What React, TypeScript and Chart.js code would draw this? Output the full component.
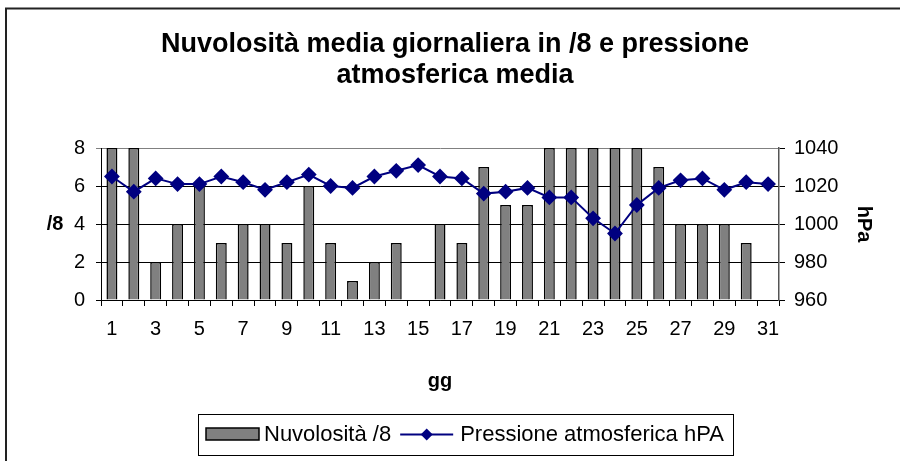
import React, { useEffect, useRef } from "react";
import { Chart, registerables } from "chart.js";

Chart.register(...registerables);

const days = ["1","2","3","4","5","6","7","8","9","10","11","12","13","14","15","16","17","18","19","20","21","22","23","24","25","26","27","28","29","30","31"];
const cloudCover = [8, 8, 2, 4, 6, 3, 4, 4, 3, 6, 3, 1, 2, 3, 0, 4, 3, 7, 5, 5, 8, 8, 8, 8, 8, 7, 4, 4, 4, 3, 0];
const pressure = [1025, 1017, 1024, 1021, 1021, 1025, 1022, 1018, 1022, 1026, 1020, 1019, 1025, 1028, 1031, 1025, 1024, 1016, 1017, 1019, 1014, 1014, 1003, 995, 1010, 1019, 1023, 1024, 1018, 1022, 1021];
const titleLines = ["Nuvolosità media giornaliera in /8 e pressione", "atmosferica media"];
const cloudLabel = "Nuvolosità /8";
const pressureLabel = "Pressione atmosferica hPA";
const leftTitle = "/8";
const rightTitle = "hPa";
const xTitle = "gg";

const FONT = "'Liberation Sans', Arial, sans-serif";
const NAVY = "#000080";
const GREY = "#808080";

const decorations = {
  id: "decorations",
  beforeDraw(chart: any) {
    const ctx = chart.ctx;
    ctx.save();
    ctx.fillStyle = "#fff";
    ctx.fillRect(0, 0, chart.width, chart.height);
    ctx.restore();
  },
  afterDraw(chart: any) {
    const ctx = chart.ctx;
    const area = chart.chartArea;
    ctx.save();
    // outer frame (top + left visible)
    ctx.strokeStyle = "#222";
    ctx.lineWidth = 2;
    ctx.beginPath();
    ctx.moveTo(6, chart.height);
    ctx.lineTo(6, 8.5);
    ctx.lineTo(chart.width, 8.5);
    ctx.stroke();

    // title
    ctx.fillStyle = "#000";
    ctx.textAlign = "center";
    ctx.textBaseline = "middle";
    ctx.font = `bold 27px ${FONT}`;
    ctx.fillText(titleLines[0], 455, 45);
    ctx.fillText(titleLines[1], 455, 76);

    // axis titles
    ctx.font = `bold 20px ${FONT}`;
    ctx.fillText(leftTitle, 55, 224);
    ctx.fillText(xTitle, (area.left + area.right) / 2, 381);
    ctx.save();
    ctx.translate(864, 224);
    ctx.rotate(Math.PI / 2);
    ctx.fillText(rightTitle, 0, 0);
    ctx.restore();

    // legend
    const bx = 198.5, by = 414.5, bw = 535, bh = 41;
    ctx.strokeStyle = "#000";
    ctx.lineWidth = 1;
    ctx.strokeRect(bx, by, bw, bh);
    const cy = 434.5;
    ctx.fillStyle = GREY;
    ctx.fillRect(206, 428, 53, 12);
    ctx.lineWidth = 1.5;
    ctx.strokeRect(206, 428, 53, 12);
    ctx.font = `22px ${FONT}`;
    ctx.fillStyle = "#000";
    ctx.textAlign = "left";
    ctx.fillText(cloudLabel, 264, cy);
    const w1 = ctx.measureText(cloudLabel).width;
    const lx = 264 + w1 + 9;
    ctx.strokeStyle = NAVY;
    ctx.lineWidth = 2;
    ctx.beginPath();
    ctx.moveTo(lx, cy);
    ctx.lineTo(lx + 53, cy);
    ctx.stroke();
    ctx.fillStyle = NAVY;
    ctx.beginPath();
    const dx = lx + 26.5;
    ctx.moveTo(dx, cy - 6);
    ctx.lineTo(dx + 6, cy);
    ctx.lineTo(dx, cy + 6);
    ctx.lineTo(dx - 6, cy);
    ctx.closePath();
    ctx.fill();
    ctx.fillStyle = "#000";
    ctx.fillText(pressureLabel, lx + 60, cy);
    ctx.restore();
  },
};

export default function App() {
  const ref = useRef<HTMLCanvasElement | null>(null);

  useEffect(() => {
    if (!ref.current) return;
    const chart = new Chart(ref.current, {
      type: "bar",
      data: {
        labels: days,
        datasets: [
          {
            type: "line",
            label: pressureLabel,
            data: pressure,
            yAxisID: "y1",
            borderColor: NAVY,
            backgroundColor: NAVY,
            borderWidth: 2,
            pointStyle: "rectRot",
            pointRadius: 6.5,
            pointBackgroundColor: NAVY,
            pointBorderColor: NAVY,
            tension: 0,
            order: 0,
          } as any,
          {
            type: "bar",
            label: cloudLabel,
            data: cloudCover,
            yAxisID: "y",
            backgroundColor: GREY,
            borderColor: "#000",
            borderWidth: 1.5,
            barPercentage: 0.5,
            categoryPercentage: 1,
            order: 1,
          } as any,
        ],
      },
      options: {
        responsive: false,
        animation: false,
        devicePixelRatio: 1,
        layout: { padding: { top: 148, left: 0, right: 0, bottom: 0 } },
        plugins: {
          legend: { display: false },
          title: { display: false },
          tooltip: { enabled: false },
        },
        scales: {
          x: {
            type: "category",
            offset: true,
            grid: {
              offset: true,
              drawOnChartArea: false,
              drawTicks: true,
              tickLength: 6,
              color: "#000",
            },
            border: { color: "#000", width: 1 },
            ticks: {
              autoSkip: false,
              maxRotation: 0,
              minRotation: 0,
              padding: 11,
              color: "#000",
              font: { family: FONT, size: 20 },
              callback: (_v: any, i: number) => (i % 2 === 0 ? days[i] : ""),
            },
            afterFit: (s: any) => {
              s.height = 161;
            },
          },
          y: {
            position: "left",
            min: 0,
            max: 8,
            ticks: {
              stepSize: 2,
              padding: 11,
              color: "#000",
              font: { family: FONT, size: 20 },
              callback: (v: any) => String(v),
            },
            grid: {
              color: (c: any) => (c.tick && c.tick.value === 8 ? GREY : "#000"),
              tickLength: 5,
              drawTicks: true,
            },
            border: { color: "#000", width: 1 },
            afterFit: (s: any) => {
              s.width = 101;
            },
          },
          y1: {
            position: "right",
            min: 960,
            max: 1040,
            ticks: {
              stepSize: 20,
              padding: 9,
              color: "#000",
              font: { family: FONT, size: 20 },
              callback: (v: any) => String(v),
            },
            grid: {
              drawOnChartArea: false,
              tickLength: 6,
              color: "#000",
            },
            border: { color: "#555", width: 1.5 },
            afterFit: (s: any) => {
              s.width = 121;
            },
          },
        },
      },
      plugins: [decorations],
    });
    return () => chart.destroy();
  }, []);

  return (
    <div style={{ position: "absolute", left: 0, top: 0, width: 900, height: 461, background: "#fff" }}>
      <canvas ref={ref} width={900} height={461} />
    </div>
  );
}
